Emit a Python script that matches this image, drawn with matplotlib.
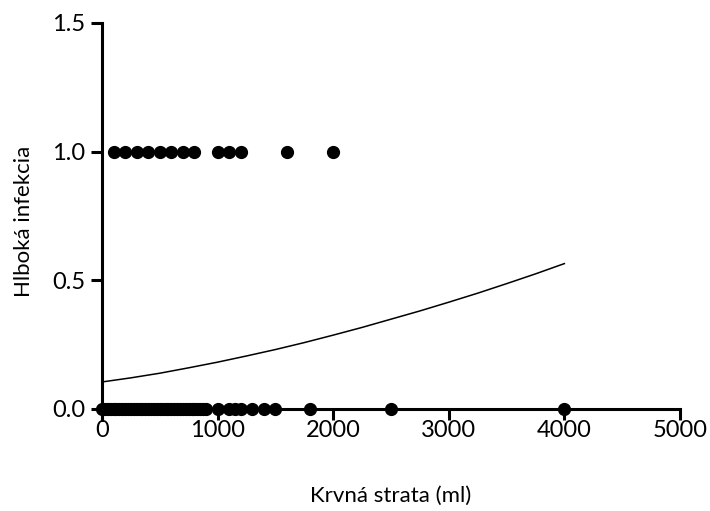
import numpy as np
import matplotlib.pyplot as plt

plt.rcParams['font.family'] = ['Lato', 'DejaVu Sans']

# data
infection_x = [100, 200, 300, 400, 500, 600, 700, 800, 1000, 1100, 1200, 1600, 2000]
no_infection_x = [0, 25, 50, 75, 100, 125, 150, 175, 200, 225, 250, 275, 300, 325, 350,
                  375, 400, 425, 450, 475, 500, 525, 550, 575, 600, 625, 650, 675, 700,
                  725, 750, 775, 800, 825, 850, 875, 900, 1000, 1100, 1150, 1200, 1300,
                  1400, 1500, 1800, 2500, 4000]

# fitted logistic curve, read at several points
curve_x = [0, 250, 500, 750, 1000, 1250, 1500, 1750, 2000, 2250, 2500, 2750,
           3000, 3250, 3500, 3750, 4000]
curve_y = [0.105, 0.121, 0.139, 0.160, 0.182, 0.206, 0.231, 0.258, 0.287, 0.317,
           0.349, 0.381, 0.415, 0.450, 0.487, 0.525, 0.565]

xticks = [0, 1000, 2000, 3000, 4000, 5000]
yticks = [0.0, 0.5, 1.0, 1.5]

fig = plt.figure(figsize=(7.1, 5.11), dpi=100)
ax = fig.add_axes([0.1437, 0.178, 0.814, 0.777])

ax.plot(curve_x, curve_y, color='black', lw=1.1)
ax.plot(infection_x, np.ones(len(infection_x)), 'o', color='black', ms=8.5, clip_on=False)
ax.plot(no_infection_x, np.zeros(len(no_infection_x)), 'o', color='black', ms=8.5,
        clip_on=False, zorder=5)

ax.set_xlim(0, 5000)
ax.set_ylim(-0.043, 1.5)
ax.spines['top'].set_visible(False)
ax.spines['right'].set_visible(False)
ax.spines['bottom'].set_position(('data', 0))
ax.spines['left'].set_linewidth(2.2)
ax.spines['bottom'].set_linewidth(2.2)

ax.set_xticks(xticks)
ax.set_yticks(yticks)
ax.set_yticklabels([f'{v:.1f}' for v in yticks])
ax.tick_params(axis='both', length=8, width=2.2, labelsize=17, pad=4)
ax.tick_params(axis='x', pad=0)

ax.set_xlabel('Krvná strata (ml)', fontsize=16, labelpad=32)
ax.set_ylabel('Hlboká infekcia', fontsize=16, labelpad=13)

fig.savefig('out.png', dpi=100)
